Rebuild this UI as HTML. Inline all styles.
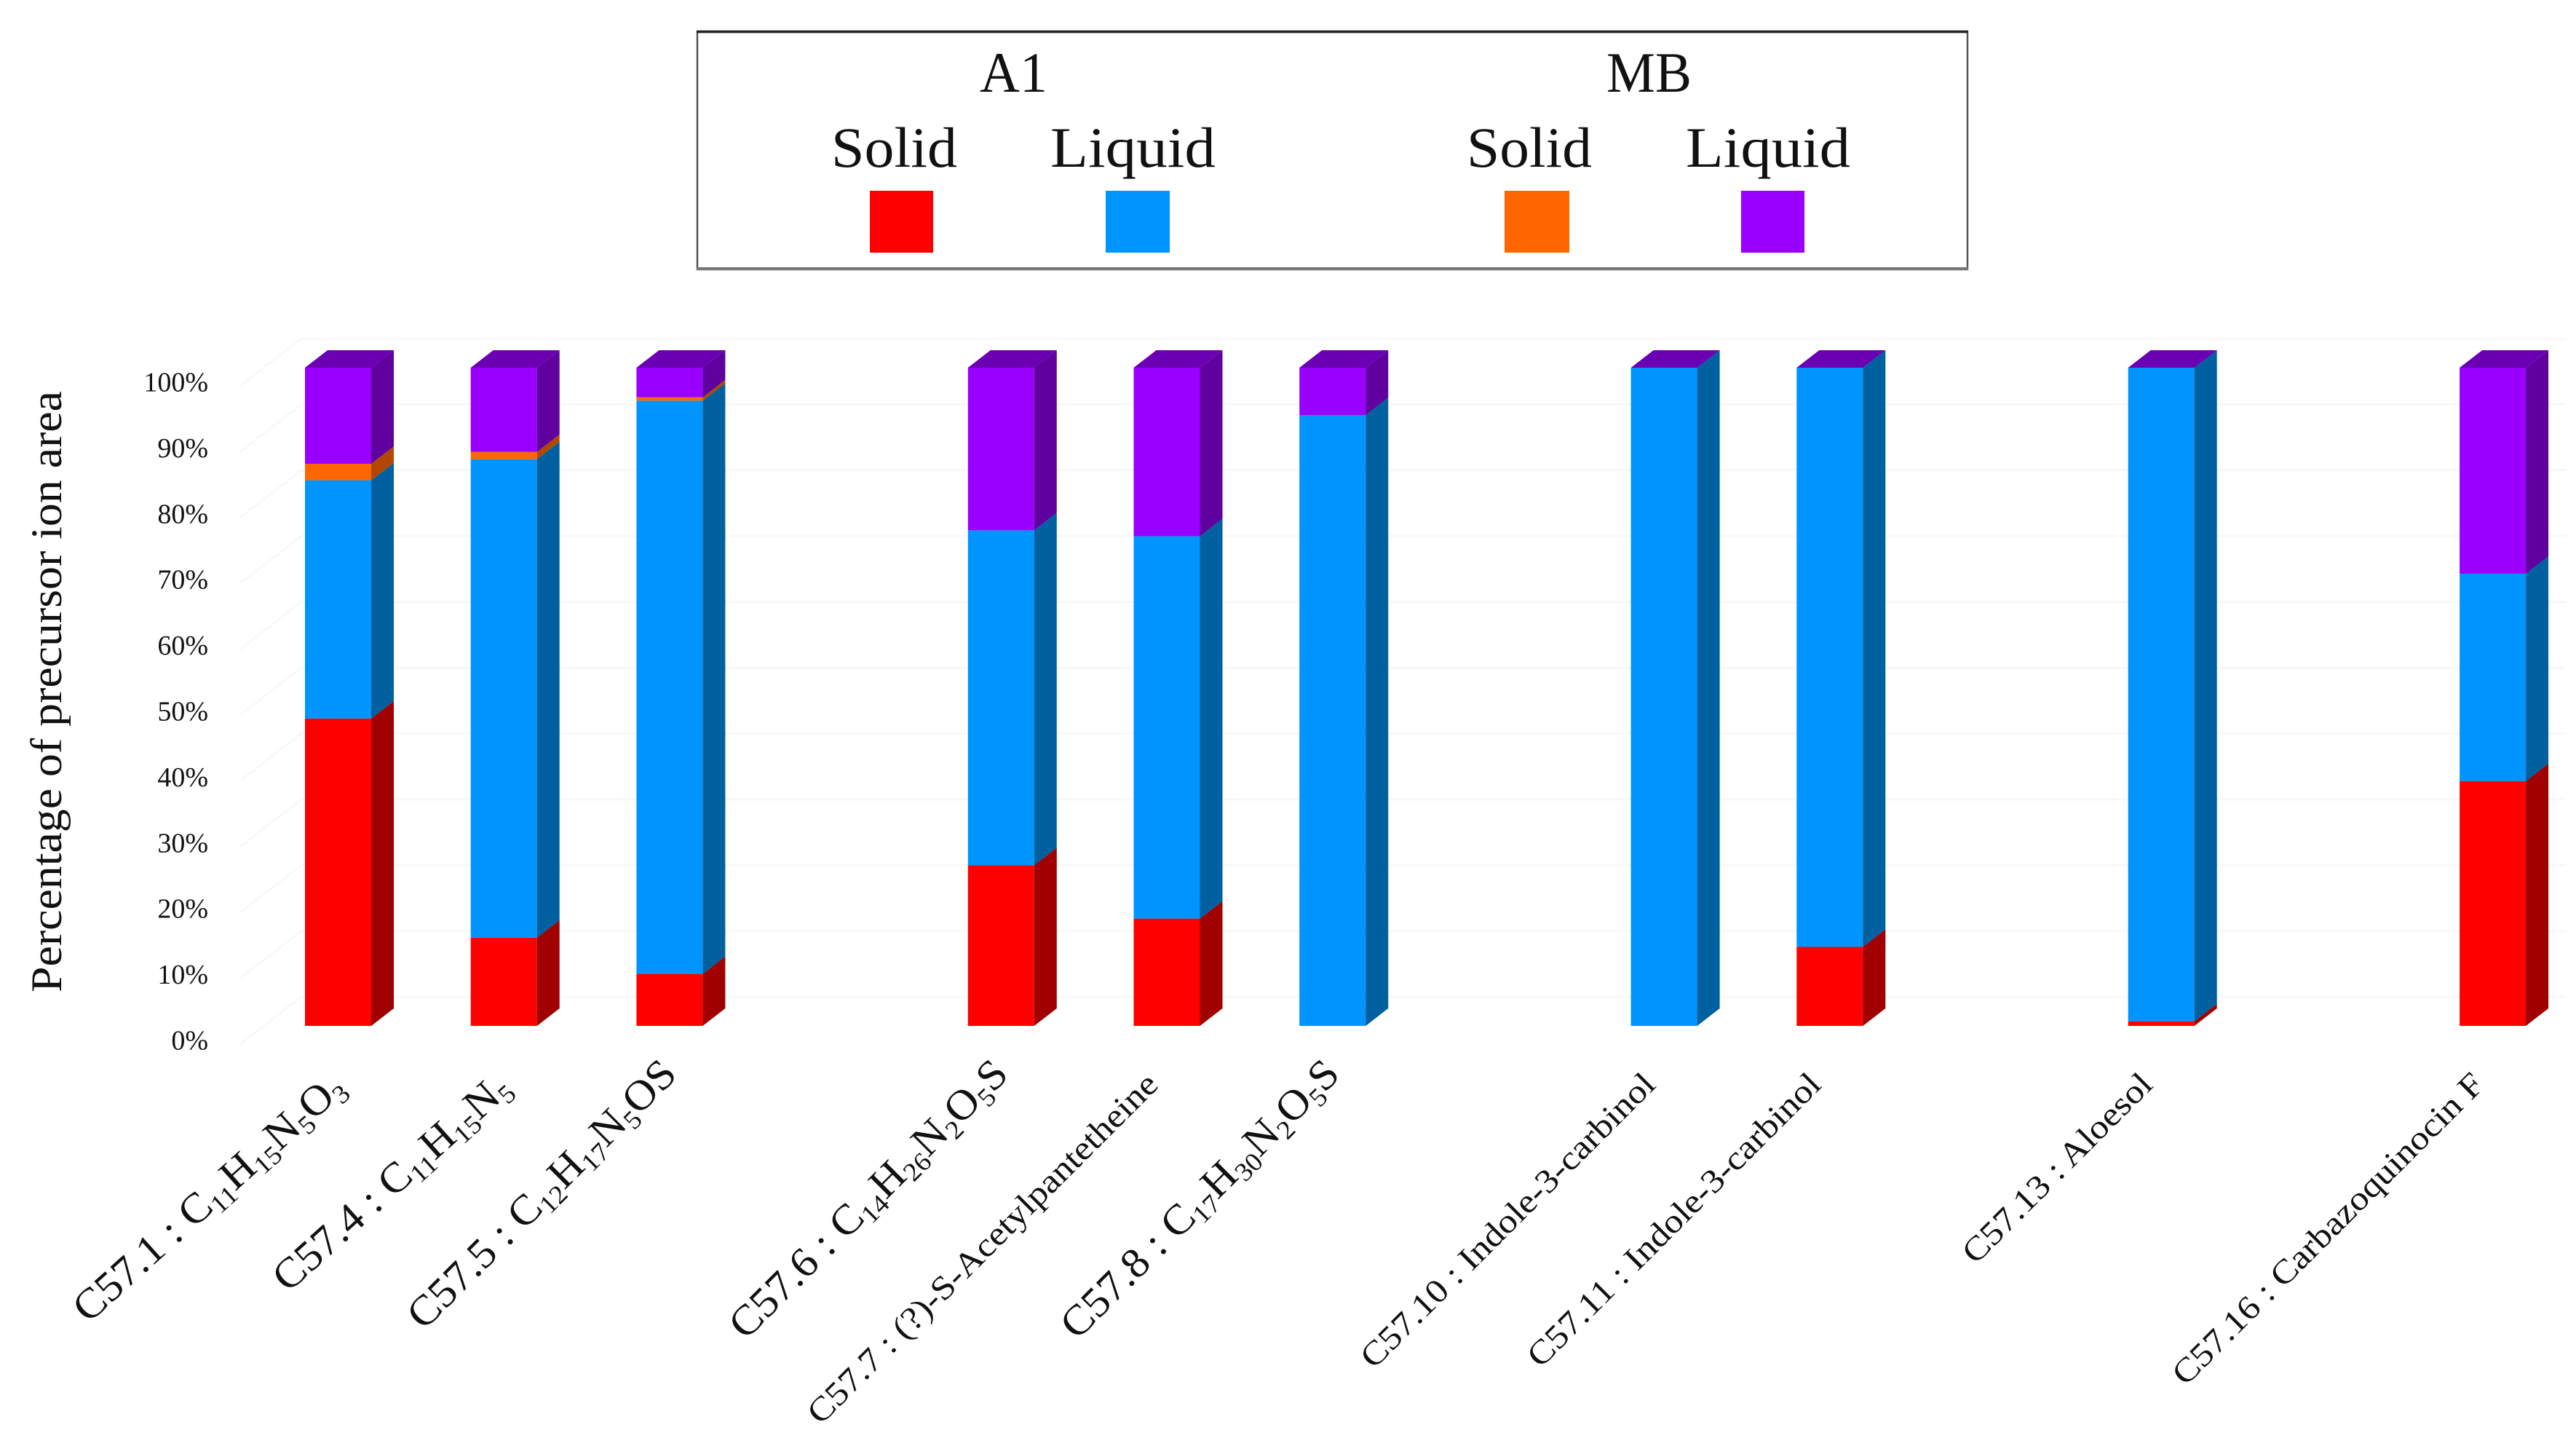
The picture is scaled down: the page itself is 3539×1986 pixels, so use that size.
<!DOCTYPE html>
<html lang="en">
<head>
<meta charset="utf-8">
<title>Percentage of precursor ion area</title>
<style>
html,body{margin:0;padding:0;background:#fff;width:3539px;height:1986px;overflow:hidden}
svg{display:block}
text{font-family:"Liberation Serif","DejaVu Serif",serif;fill:#111}
</style>
</head>
<body>
<svg id="chart" xmlns="http://www.w3.org/2000/svg" width="3539" height="1986" viewBox="0 0 3539 1986">
  <rect x="0" y="0" width="3539" height="1986" fill="#fff"/>
  <g id="grid"></g>
  <g id="yticks"></g>
  <g id="bars"></g>
  <g id="xlabels"></g>
  <text transform="translate(84,1363) rotate(-90)" font-size="60" textLength="826" lengthAdjust="spacingAndGlyphs">Percentage of precursor ion area</text>
  <g>
    <rect x="958" y="44" width="1745" height="326" fill="#fff" stroke="#555" stroke-width="2.5"/>
    <line x1="957" x2="2704" y1="43.5" y2="43.5" stroke="#222" stroke-width="3.5"/>
    <line x1="957" x2="2704" y1="369" y2="369" stroke="#777" stroke-width="4"/>
    <text x="1346" y="126" font-size="78" textLength="93" lengthAdjust="spacingAndGlyphs">A1</text>
    <text x="2207" y="126" font-size="78" textLength="117" lengthAdjust="spacingAndGlyphs">MB</text>
    <text x="1142" y="229" font-size="78" textLength="173" lengthAdjust="spacingAndGlyphs">Solid</text>
    <text x="1443" y="229" font-size="78" textLength="227" lengthAdjust="spacingAndGlyphs">Liquid</text>
    <text x="2015" y="229" font-size="78" textLength="172" lengthAdjust="spacingAndGlyphs">Solid</text>
    <text x="2316" y="229" font-size="78" textLength="226" lengthAdjust="spacingAndGlyphs">Liquid</text>
    <rect x="1195" y="262" width="87" height="85" fill="#ff0000"/>
    <rect x="1519" y="262" width="88" height="85" fill="#0094ff"/>
    <rect x="2067" y="262" width="89" height="85" fill="#ff6600"/>
    <rect x="2392" y="262" width="87" height="85" fill="#9900ff"/>
  </g>
</svg>
<script>
// Chart data (percent of precursor ion area); '' marks an empty category slot.
const categories = [
  "C57.1 : C_11H_15N_5O_3",
  "C57.4 : C_11H_15N_5",
  "C57.5 : C_12H_17N_5OS",
  "",
  "C57.6 : C_14H_26N_2O_5S",
  "C57.7 : (?)-S-Acetylpantetheine",
  "C57.8 : C_17H_30N_2O_5S",
  "",
  "C57.10 : Indole-3-carbinol",
  "C57.11 : Indole-3-carbinol",
  "",
  "C57.13 : Aloesol",
  "",
  "C57.16 : Carbazoquinocin F"
];
const a1Solid  = [46.7, 13.4, 7.9, 0, 24.4, 16.3, 0,    0, 0,   12, 0, 0.7,  0, 37.2];
const a1Liquid = [36.2, 72.7, 87.1, 0, 50.9, 58.1, 92.8, 0, 100, 88, 0, 99.3, 0, 31.5];
const mbSolid  = [2.5,  1.1,  0.5,  0, 0,    0,    0,    0, 0,   0,  0, 0,    0, 0];
const mbLiquid = [14.6, 12.8, 4.5,  0, 24.7, 25.6, 7.2,  0, 0,   0,  0, 0,    0, 31.3];
const tickValues = [0, 10, 20, 30, 40, 50, 60, 70, 80, 90, 100];
const tickLabels = ["0%", "10%", "20%", "30%", "40%", "50%", "60%", "70%", "80%", "90%", "100%"];

const NS = "http://www.w3.org/2000/svg";
const yScale = v => 1409 - v * 9.04;
const xScale = i => 419 + i * 227.7;
const BAR_W = 91, DEPTH_X = 31, DEPTH_Y = 24;

function make(tag, attrs, parent) {
  const el = document.createElementNS(NS, tag);
  for (const k in attrs) el.setAttribute(k, attrs[k]);
  parent.appendChild(el);
  return el;
}

// gridlines and y tick labels
const gridG = document.getElementById("grid");
const tickG = document.getElementById("yticks");
tickValues.forEach((v, i) => {
  const back = make("line", {x1: 414, x2: 3525, y1: yScale(v) - 40, y2: yScale(v) - 40, stroke: "#f8f8f8", "stroke-width": 3}, gridG);
  
  
  const wall = make("line", {x1: 330, x2: 414, y1: yScale(v) + 25, y2: yScale(v) - 40, stroke: "#f8f8f8", "stroke-width": 3}, gridG);
  
  
  const t = make("text", {x: 286, y: yScale(v) + 32.5, "text-anchor": "end", "font-size": 38}, tickG);
  
  
  t.textContent = tickLabels[i];
});

// stacked 3D bars
const seriesList = [
  {name: "a1-solid",  values: a1Solid,  front: "#ff0000", side: "#a00000"},
  {name: "a1-liquid", values: a1Liquid, front: "#0094ff", side: "#0060a0"},
  {name: "mb-solid",  values: mbSolid,  front: "#ff6600", side: "#b34700"},
  {name: "mb-liquid", values: mbLiquid, front: "#9900ff", side: "#5f009f"}
];
const barsG = document.getElementById("bars");
categories.forEach((cat, i) => {
  if (!cat) return;
  const x = xScale(i);
  const r = x + BAR_W;
  let cum = 0;
  seriesList.forEach(s => {
    const val = s.values[i];
    if (val <= 0) return;
    const y0 = yScale(cum);
    const y1 = yScale(cum + val);
    const face = make("rect", {x: x, y: y1, width: BAR_W, height: y0 - y1, fill: s.front}, barsG);
    
    
    const side = make("polygon", {
      points: [[r, y0], [r, y1], [r + DEPTH_X, y1 - DEPTH_Y], [r + DEPTH_X, y0 - DEPTH_Y]].join(" "),
      fill: s.side
    }, barsG);
    
    
    cum += val;
  });
  const yt = yScale(cum);
  const cap = make("polygon", {
    points: [[x, yt], [r, yt], [r + DEPTH_X, yt - DEPTH_Y], [x + DEPTH_X, yt - DEPTH_Y]].join(" "),
    fill: "#6b00b3"
  }, barsG);
  
  
});

// rotated category labels; "_nn" marks a subscript
const labelG = document.getElementById("xlabels");
categories.forEach((cat, i) => {
  if (!cat) return;
  const isFormula = cat.includes("_");
  const noSulfur = isFormula && !/S$/.test(cat);
  const endX = xScale(i) + (isFormula ? 58 : 36);
  const endY = isFormula ? (noSulfur ? 1498 : 1478) : 1492;
  const size = isFormula ? 58 : 46;
  const stretch = isFormula ? 1.05 : 1.12;
  const angle = noSulfur ? -42 : -45;
  const t = make("text", {
    transform: "translate(" + endX + "," + endY + ") rotate(" + angle + ") scale(" + stretch + ",1)",
    "text-anchor": "end",
    "font-size": size
  }, labelG);
  
  
  cat.split(/(_\d+)/).forEach(part => {
    if (!part) return;
    const span = make("tspan", {}, t);
    if (part[0] === "_") {
      span.setAttribute("baseline-shift", "-26%");
      span.setAttribute("font-size", size * 0.62);
      span.textContent = part.slice(1);
    } else {
      span.textContent = part;
    }
  });
});
</script>
</body>
</html>
